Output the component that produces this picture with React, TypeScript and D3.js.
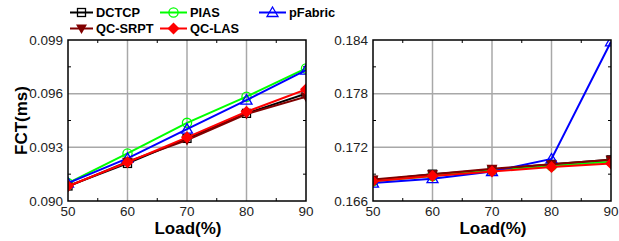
import { useEffect, useRef } from 'react'
import * as d3 from 'd3'

const loads = [50, 60, 70, 80, 90]

// left panel
const dctcpL = [0.09084, 0.0921, 0.0935, 0.0949, 0.0960]
const piasL = [0.0910, 0.09266, 0.09437, 0.09583, 0.09741]
const pfabricL = [0.0910, 0.09238, 0.09402, 0.09564, 0.09732]
const qcSrptL = [0.0908, 0.0922, 0.09341, 0.09486, 0.09583]
const qcLasL = [0.09084, 0.09216, 0.09356, 0.09499, 0.09624]

// right panel
const dctcpR = [0.1683, 0.1690, 0.1695, 0.1701, 0.1706]
const piasR = [0.1682, 0.1688, 0.1694, 0.1699, 0.1704]
const pfabricR = [0.1680, 0.1685, 0.1693, 0.1707, 0.1838]
const qcSrptR = [0.1684, 0.1690, 0.1696, 0.1701, 0.1706]
const qcLasR = [0.1682, 0.1688, 0.1693, 0.1698, 0.1702]

const leftTicks = [0.090, 0.093, 0.096, 0.099]
const rightTicks = [0.166, 0.172, 0.178, 0.184]

const seriesNames = ['DCTCP', 'PIAS', 'pFabric', 'QC-SRPT', 'QC-LAS']
const colors = ['#000000', '#00ff00', '#0000ff', '#800000', '#ff0000']

type Shape = 'square' | 'circle' | 'triangle' | 'down' | 'diamond'
const shapes: Shape[] = ['square', 'circle', 'triangle', 'down', 'diamond']

function drawMarker(g: d3.Selection<SVGGElement, unknown, null, undefined>, shape: Shape, x: number, y: number, color: string) {
  if (shape === 'square') {
    g.append('rect').attr('x', x - 4).attr('y', y - 4).attr('width', 8).attr('height', 8)
      .attr('fill', 'none').attr('stroke', color).attr('stroke-width', 1.3)
  } else if (shape === 'circle') {
    g.append('circle').attr('cx', x).attr('cy', y).attr('r', 4.6)
      .attr('fill', 'none').attr('stroke', color).attr('stroke-width', 1.3)
  } else if (shape === 'triangle') {
    g.append('path').attr('d', `M${x},${y - 5.5}L${x + 5.5},${y + 4}L${x - 5.5},${y + 4}Z`)
      .attr('fill', 'none').attr('stroke', color).attr('stroke-width', 1.3)
  } else if (shape === 'down') {
    g.append('path').attr('d', `M${x - 5.5},${y - 4}L${x + 5.5},${y - 4}L${x},${y + 5.5}Z`)
      .attr('fill', color)
  } else {
    g.append('path').attr('d', `M${x},${y - 6}L${x + 6},${y}L${x},${y + 6}L${x - 6},${y}Z`)
      .attr('fill', color)
  }
}

export default function App() {
  const svgRef = useRef<SVGSVGElement>(null)

  useEffect(() => {
    if (!svgRef.current) return
    const svg = d3.select(svgRef.current)
    svg.selectAll('*').remove()

    const font = 'Liberation Sans, Arial, sans-serif'

    const panels = [
      { id: 'l', left: 68, right: 306, ticks: leftTicks, data: [dctcpL, piasL, pfabricL, qcSrptL, qcLasL], yTitle: true },
      { id: 'r', left: 373, right: 611, ticks: rightTicks, data: [dctcpR, piasR, pfabricR, qcSrptR, qcLasR], yTitle: false },
    ]
    const top = 40
    const bottom = 201

    panels.forEach(p => {
      const x = d3.scaleLinear().domain([50, 90]).range([p.left, p.right])
      const y = d3.scaleLinear().domain([p.ticks[0], p.ticks[p.ticks.length - 1]]).range([bottom, top])
      const g = svg.append('g')

      // grid
      loads.slice(1, -1).forEach(v => {
        g.append('line').attr('x1', x(v)).attr('x2', x(v)).attr('y1', top).attr('y2', bottom)
          .attr('stroke', '#a8a8a8').attr('stroke-width', 1.5)
      })
      p.ticks.slice(1, -1).forEach(v => {
        g.append('line').attr('x1', p.left).attr('x2', p.right).attr('y1', y(v)).attr('y2', y(v))
          .attr('stroke', '#a8a8a8').attr('stroke-width', 1.5)
      })

      // minor ticks
      const minorX = d3.range(55, 90, 10)
      minorX.forEach(v => {
        g.append('line').attr('x1', x(v)).attr('x2', x(v)).attr('y1', bottom).attr('y2', bottom - 3).attr('stroke', '#000')
        g.append('line').attr('x1', x(v)).attr('x2', x(v)).attr('y1', top).attr('y2', top + 3).attr('stroke', '#000')
      })
      const step = p.ticks[1] - p.ticks[0]
      p.ticks.slice(0, -1).forEach(v => {
        const yy = y(v + step / 2)
        g.append('line').attr('x1', p.left).attr('x2', p.left + 3).attr('y1', yy).attr('y2', yy).attr('stroke', '#000')
        g.append('line').attr('x1', p.right).attr('x2', p.right - 3).attr('y1', yy).attr('y2', yy).attr('stroke', '#000')
      })

      // series
      const clipId = `clip-${p.id}`
      svg.append('defs').append('clipPath').attr('id', clipId)
        .append('rect').attr('x', p.left).attr('y', top).attr('width', p.right - p.left).attr('height', bottom - top)
      const sg = g.append('g').attr('clip-path', `url(#${clipId})`)
      const line = d3.line<number>().x((_, i) => x(loads[i])).y(d => y(d))
      p.data.forEach((vals, si) => {
        sg.append('path').attr('d', line(vals)).attr('fill', 'none')
          .attr('stroke', colors[si]).attr('stroke-width', 2)
        vals.forEach((v, i) => drawMarker(sg, shapes[si], x(loads[i]), y(v), colors[si]))
      })

      // frame
      g.append('rect').attr('x', p.left).attr('y', top).attr('width', p.right - p.left).attr('height', bottom - top)
        .attr('fill', 'none').attr('stroke', '#000').attr('stroke-width', 1.5)

      // tick labels
      loads.forEach(v => {
        g.append('text').attr('x', x(v)).attr('y', 215.5).attr('text-anchor', 'middle')
          .attr('font-family', font).attr('font-size', 13.5).attr('fill', '#222').text(v)
      })
      p.ticks.forEach(v => {
        g.append('text').attr('x', p.left - 5).attr('y', y(v) + 4.5).attr('text-anchor', 'end')
          .attr('font-family', font).attr('font-size', 13.5).attr('fill', '#222').text(d3.format('.3f')(v))
      })

      g.append('text').attr('x', (p.left + p.right) / 2 + 1).attr('y', 234).attr('text-anchor', 'middle')
        .attr('font-family', font).attr('font-size', 17).attr('font-weight', 'bold').text('Load(%)')

      if (p.yTitle) {
        g.append('text').attr('transform', `translate(21,${(top + bottom) / 2}) rotate(-90)`)
          .attr('text-anchor', 'middle').attr('dy', 6)
          .attr('font-family', font).attr('font-size', 17).attr('font-weight', 'bold').text('FCT(ms)')
      }
    })

    // legend
    const legendPos = [
      { x: 70, y: 12.5 }, { x: 160, y: 12.5 }, { x: 259, y: 12.5 },
      { x: 70, y: 28.5 }, { x: 160, y: 28.5 },
    ]
    seriesNames.forEach((name, i) => {
      const lp = legendPos[i]
      const lg = svg.append('g')
      const w = i === 0 || i === 3 ? 23 : 27
      lg.append('line').attr('x1', lp.x).attr('x2', lp.x + w).attr('y1', lp.y).attr('y2', lp.y)
        .attr('stroke', colors[i]).attr('stroke-width', 2)
      drawMarker(lg, shapes[i], lp.x + w / 2, lp.y, colors[i])
      lg.append('text').attr('x', lp.x + w + 3).attr('y', lp.y + 4.5)
        .attr('font-family', font).attr('font-size', 12.8).attr('font-weight', 'bold').text(name)
    })
  }, [])

  return (
    <svg ref={svgRef} width={619} height={241} style={{ position: 'absolute', left: 0, top: 0 }} />
  )
}
